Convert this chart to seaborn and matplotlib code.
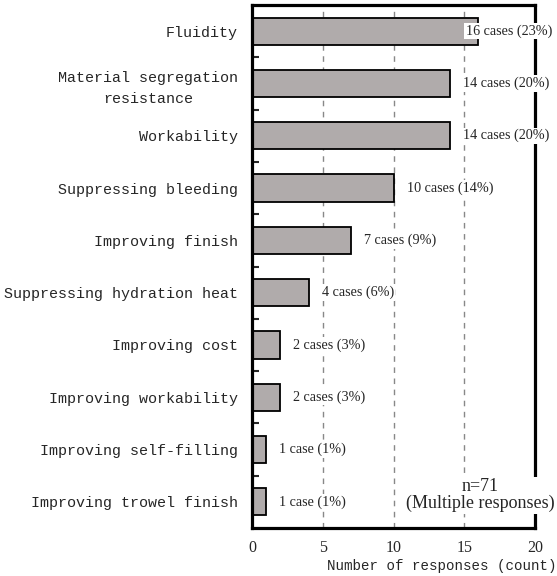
import matplotlib
matplotlib.use("Agg")
import matplotlib.pyplot as plt
import seaborn as sns
import pandas as pd
from matplotlib.ticker import FixedLocator

categories = ["Fluidity", "Material segregation\nresistance", "Workability",
              "Suppressing bleeding", "Improving finish", "Suppressing hydration heat",
              "Improving cost", "Improving workability", "Improving self-filling",
              "Improving trowel finish"]
counts = [16, 14, 14, 10, 7, 4, 2, 2, 1, 1]
value_labels = ["16 cases (23%)", "14 cases (20%)", "14 cases (20%)", "10 cases (14%)",
                "7 cases (9%)", "4 cases (6%)", "2 cases (3%)", "2 cases (3%)",
                "1 case (1%)", "1 case (1%)"]
x_ticks = [0, 5, 10, 15, 20]

df = pd.DataFrame({"category": categories, "count": counts})

sns.set_style("white")
mono = "Liberation Mono"
serif = "Liberation Serif"

fig = plt.figure(figsize=(5.57, 5.76), dpi=100)
ax = fig.add_axes([252/557, 1-528/576, (535-252)/557, (528-5)/576])

sns.barplot(data=df, y="category", x="count", orient="h", ax=ax,
            color="#b0abab", edgecolor="black", linewidth=1.3, width=0.52,
            saturation=1)

ax.set_xlim(0, 20)
ax.set_ylim(9.5, -0.5)
ax.set_xticks(x_ticks)
ax.set_xticklabels([str(t) for t in x_ticks], fontfamily=serif, fontsize=11.5)
ax.set_yticks(range(len(categories)))
ax.set_yticklabels(categories, fontfamily=mono, fontsize=10.8, linespacing=1.65,
                   ha="right", multialignment="center")
ax.tick_params(axis="y", which="major", length=0, pad=10)
ax.yaxis.set_minor_locator(FixedLocator([i + 0.5 for i in range(len(categories) - 1)]))
ax.tick_params(axis="y", which="minor", direction="in", length=5, width=1.5, left=True)
ax.tick_params(axis="x", which="major", direction="in", length=3, width=1.5, pad=9)

for x in [5, 10, 15]:
    ax.axvline(x, color="#888888", linestyle=(0, (4, 4)), linewidth=1, zorder=0)

for s in ax.spines.values():
    s.set_linewidth(2.3)
    s.set_color("black")

ax.set_ylabel("")
ax.set_xlabel("Number of responses (count)", fontfamily=mono, fontsize=10.2)
ax.xaxis.set_label_coords((442-252)/(535-252), -(566-528)/(528-5))
ax.xaxis.label.set_va("center")

for i, (v, lab) in enumerate(zip(counts, value_labels)):
    xpos = min(v + 0.92, 15.1)
    ax.text(xpos, i, lab, va="center", ha="left", fontfamily=serif, fontsize=10.2,
            zorder=5, bbox=dict(facecolor="white", edgecolor="none", pad=1))

ax.text(16.1, 8.87, "n=71\n(Multiple responses)", ha="center", va="center",
        fontfamily=serif, fontsize=13, linespacing=1.0, zorder=5,
        bbox=dict(facecolor="white", edgecolor="none", pad=1))

fig.savefig("out.png", dpi=100)
